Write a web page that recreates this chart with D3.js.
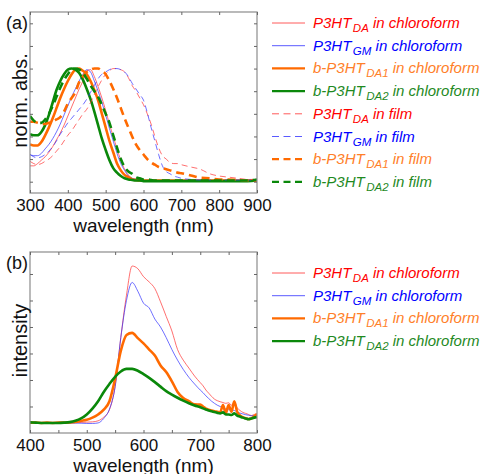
<!DOCTYPE html>
<html>
<head>
<meta charset="utf-8">
<script src="https://cdn.jsdelivr.net/npm/d3@7"></script>
<style>
body { margin: 0; background: #fff; }
text { font-family: "Liberation Sans", Arial, sans-serif; }
</style>
</head>
<body>
<svg id="chart" width="480" height="474"></svg>
<script>
// panel (a): normalised absorption
var wlA = [300,310,320,330,340,350,360,370,380,390,400,410,420,430,440,450,460,470,480,490,
  500,510,520,530,540,550,560,570,580,590,600,610,620,630,640,650,660,670,680,690,700,
  725,750,775,800,825,850,875,900]
var absDaSol = [0.14,0.14,0.16,0.19,0.22,0.26,0.31,0.37,0.43,0.50,0.58,0.66,0.74,0.82,0.89,0.98,0.99,0.93,0.84,0.74,
  0.63,0.51,0.40,0.29,0.19,0.11,0.06,0.03,0.02,0.015,0.01,0.01,0.01,0.01,0.01,0.01,0.01,0.01,0.01,0.01,0.01,
  0.01,0.01,0.01,0.01,0.01,0.01,0.01,0.01]
var absGmSol = [0.24,0.23,0.23,0.25,0.29,0.33,0.38,0.44,0.51,0.59,0.67,0.75,0.82,0.89,0.95,0.99,0.97,0.89,0.80,0.70,
  0.59,0.47,0.36,0.25,0.16,0.10,0.05,0.03,0.02,0.015,0.01,0.01,0.01,0.01,0.01,0.01,0.01,0.01,0.01,0.01,0.01,
  0.01,0.01,0.01,0.01,0.01,0.01,0.01,0.01]
var absDa1Sol = [0.33,0.32,0.32,0.35,0.41,0.48,0.56,0.65,0.74,0.82,0.89,0.95,0.99,1.00,0.98,0.95,0.89,0.81,0.72,0.60,
  0.48,0.36,0.26,0.16,0.10,0.06,0.04,0.02,0.015,0.01,0.01,0.01,0.01,0.01,0.01,0.01,0.01,0.01,0.01,0.01,0.01,
  0.01,0.01,0.01,0.01,0.01,0.01,0.01,0.01]
var absDa2Sol = [0.42,0.41,0.41,0.44,0.50,0.59,0.70,0.81,0.89,0.95,0.99,1.00,0.99,0.96,0.90,0.82,0.73,0.62,0.50,0.38,
  0.28,0.19,0.12,0.08,0.05,0.03,0.02,0.015,0.01,0.01,0.005,0.005,0.005,0.005,0.005,0.005,0.005,0.005,0.005,0.005,0.005,
  0.005,0.005,0.005,0.005,0.005,0.005,0.005,0.01]
var absDaFilm = [0.18,0.16,0.15,0.16,0.18,0.20,0.23,0.27,0.31,0.36,0.41,0.45,0.50,0.55,0.60,0.64,0.70,0.77,0.84,0.90,
  0.95,0.98,1.00,1.00,0.99,0.97,0.92,0.85,0.80,0.74,0.68,0.60,0.51,0.40,0.30,0.23,0.20,0.17,0.16,0.16,0.15,
  0.13,0.11,0.07,0.05,0.04,0.03,0.02,0.02]
var absGmFilm = [0.24,0.22,0.21,0.22,0.24,0.27,0.31,0.36,0.42,0.47,0.52,0.56,0.60,0.64,0.68,0.73,0.79,0.85,0.91,0.95,
  0.97,0.99,1.00,1.00,0.99,0.97,0.93,0.87,0.82,0.77,0.72,0.61,0.48,0.36,0.24,0.14,0.09,0.07,0.05,0.04,0.03,
  0.02,0.015,0.015,0.015,0.015,0.015,0.015,0.01]
var absDa1Film = [0.53,0.53,0.52,0.51,0.51,0.52,0.53,0.55,0.57,0.62,0.69,0.74,0.79,0.88,0.93,0.97,0.99,1.00,1.00,0.98,
  0.95,0.89,0.82,0.74,0.65,0.56,0.48,0.40,0.33,0.28,0.24,0.20,0.17,0.15,0.13,0.12,0.11,0.10,0.09,0.08,0.075,
  0.055,0.035,0.03,0.02,0.02,0.015,0.01,0.01]
var absDa2Film = [0.58,0.54,0.52,0.52,0.55,0.60,0.67,0.75,0.83,0.90,0.95,0.99,1.00,0.99,0.96,0.91,0.85,0.80,0.75,0.68,
  0.60,0.52,0.41,0.30,0.20,0.13,0.09,0.07,0.04,0.03,0.02,0.02,0.015,0.01,0.01,0.01,0.01,0.01,0.01,0.01,0.01,
  0.01,0.01,0.01,0.01,0.01,0.01,0.01,0.02]

// panel (b): photoluminescence
var wlB = [400,410,420,430,440,450,460,470,480,490,500,510,520,530,540,550,560,570,580,590,600,
  610,620,630,640,650,660,670,680,690,700,705,710,715,720,725,730,735,740,745,750,
  755,760,765,770,775,780,785,790,795,800]
var plDa = [0.40,0.40,0.39,0.40,0.39,0.40,0.39,0.40,0.40,0.40,0.41,0.42,0.46,0.60,0.88,1.75,3.60,5.20,6.30,6.20,5.90,
  5.70,5.45,4.95,4.40,3.85,3.15,2.75,2.45,2.15,1.90,1.78,1.62,1.50,1.38,1.28,1.22,1.18,1.15,1.12,1.14,
  1.05,1.15,0.95,0.85,0.78,0.74,0.70,0.66,0.70,0.72]
var plGm = [0.38,0.38,0.38,0.37,0.38,0.37,0.38,0.37,0.37,0.37,0.36,0.36,0.38,0.55,0.90,1.75,3.60,5.00,5.68,5.35,4.90,
  4.72,4.30,4.00,3.60,3.15,2.75,2.40,2.10,1.85,1.62,1.52,1.40,1.30,1.20,1.12,1.05,1.00,0.95,0.91,0.88,
  0.87,0.85,0.80,0.75,0.72,0.69,0.67,0.65,0.66,0.66]
var plDa1 = [0.39,0.39,0.38,0.39,0.38,0.39,0.39,0.40,0.42,0.46,0.50,0.58,0.70,0.88,1.20,2.05,3.10,3.70,3.78,3.58,3.38,
  3.15,2.92,2.55,2.30,1.95,1.55,1.32,1.20,1.08,1.07,1.00,0.92,0.88,0.85,0.82,0.80,0.78,1.05,0.75,1.05,
  0.80,1.20,0.80,0.66,0.60,0.56,0.53,0.55,0.62,0.72]
var plDa2 = [0.40,0.39,0.38,0.38,0.38,0.38,0.39,0.41,0.46,0.55,0.70,0.92,1.20,1.55,1.85,2.12,2.32,2.42,2.42,2.35,2.22,
  2.08,1.92,1.75,1.58,1.45,1.33,1.22,1.12,1.04,0.97,0.93,0.89,0.85,0.82,0.79,0.76,0.74,0.78,0.70,0.70,
  0.68,0.74,0.66,0.62,0.58,0.55,0.52,0.55,0.58,0.60]

var ticksA = [300,400,500,600,700,800,900]
var ticksB = [400,500,600,700,800]
var minorB = [400,450,500,550,600,650,700,750,800]

var seriesA = [
  {v: absDaSol, c: "#ff3030", t: "#ff0000", w: 0.7, dash: null, name: "P3HT", sub: "DA", rest: " in chloroform"},
  {v: absGmSol, c: "#3030ff", t: "#0000ff", w: 0.7, dash: null, name: "P3HT", sub: "GM", rest: " in chloroform"},
  {v: absDa1Sol, c: "#ff6a00", t: "#ff7f2a", w: 2.6, dash: null, name: "b-P3HT", sub: "DA1", rest: " in chloroform"},
  {v: absDa2Sol, c: "#0a880a", t: "#1f8a1f", w: 2.6, dash: null, name: "b-P3HT", sub: "DA2", rest: " in chloroform"},
  {v: absDaFilm, c: "#ff3030", t: "#ff0000", w: 0.7, dash: "6,4", name: "P3HT", sub: "DA", rest: " in film"},
  {v: absGmFilm, c: "#3030ff", t: "#0000ff", w: 0.7, dash: "6,4", name: "P3HT", sub: "GM", rest: " in film"},
  {v: absDa1Film, c: "#ff6a00", t: "#ff7f2a", w: 2.6, dash: "8,5", name: "b-P3HT", sub: "DA1", rest: " in film"},
  {v: absDa2Film, c: "#0a880a", t: "#1f8a1f", w: 2.6, dash: "8,5", name: "b-P3HT", sub: "DA2", rest: " in film"}
]
var seriesB = seriesA.slice(0, 4).map(function(s, i) {
  return Object.assign({}, s, {v: [plDa, plGm, plDa1, plDa2][i]})
})

var svg = d3.select("#chart")

function drawPanel(cfg) {
  var x = d3.scaleLinear().domain(cfg.xdom).range([30, 257])
  var y = d3.scaleLinear().domain(cfg.ydom).range([cfg.bottom, cfg.top])
  var g = svg.append("g")

  g.append("clipPath").attr("id", cfg.id).append("rect")
    .attr("x", 30).attr("y", cfg.top).attr("width", 227).attr("height", cfg.bottom - cfg.top)

  var line = d3.line().curve(d3.curveMonotoneX)
    .x(function(d) { return x(d[0]) }).y(function(d) { return y(d[1]) })

  var lines = g.append("g").attr("clip-path", "url(#" + cfg.id + ")")
  cfg.series.forEach(function(s) {
    lines.append("path")
      .datum(cfg.wl.map(function(w, i) { return [w, s.v[i]] }))
      .attr("d", line).attr("fill", "none")
      .attr("stroke", s.c).attr("stroke-width", s.w)
      .attr("stroke-dasharray", s.dash)
  })

  // frame and inward ticks on all four sides
  g.append("rect").attr("x", 30).attr("y", cfg.top).attr("width", 227)
    .attr("height", cfg.bottom - cfg.top).attr("fill", "none")
    .attr("stroke", "#8c8c8c").attr("stroke-width", 1.2)

  var bx = g.append("g").attr("transform", "translate(0," + cfg.bottom + ")")
    .call(d3.axisBottom(x).tickValues(cfg.minor).tickSize(-3).tickFormat(""))
  var tx = g.append("g").attr("transform", "translate(0," + cfg.top + ")")
    .call(d3.axisTop(x).tickValues(cfg.minor).tickSize(-3).tickFormat(""))
  var ly = g.append("g").attr("transform", "translate(30,0)")
    .call(d3.axisLeft(y).tickValues(cfg.yticks).tickSize(-3).tickFormat(""))
  var ry = g.append("g").attr("transform", "translate(257,0)")
    .call(d3.axisRight(y).tickValues(cfg.yticks).tickSize(-3).tickFormat(""))
  ;[bx, tx, ly, ry].forEach(function(a) {
    a.select(".domain").remove()
    a.selectAll("line").attr("stroke", "#666")
  })

  var lab = g.append("g").attr("transform", "translate(0," + cfg.bottom + ")")
    .call(d3.axisBottom(x).tickValues(cfg.xticks).tickSize(0).tickPadding(6).tickFormat(d3.format("d")))
  lab.select(".domain").remove()
  lab.selectAll("text").attr("font-size", 17).attr("fill", "#111")
    .style("font-family", "'Liberation Sans', Arial, sans-serif")

  g.append("text").attr("x", 143.5).attr("y", cfg.bottom + 38.5)
    .attr("text-anchor", "middle").attr("font-size", 19).attr("fill", "#111")
    .text("wavelength (nm)")
  g.append("text").attr("transform", "translate(27," + ((cfg.top + cfg.bottom) / 2 - 2) + ") rotate(-90)")
    .attr("text-anchor", "middle").attr("font-size", 20).attr("fill", "#111")
    .text(cfg.ylabel)
  g.append("text").attr("x", 6).attr("y", cfg.top + 17)
    .attr("font-size", 18).attr("fill", "#111").text(cfg.tag)

  // legend
  var leg = g.append("g")
  cfg.series.forEach(function(s, i) {
    var yy = cfg.legTop + i * 22.7
    leg.append("line").attr("x1", 272).attr("x2", 305).attr("y1", yy).attr("y2", yy)
      .attr("stroke", s.c).attr("stroke-width", s.w < 1 ? 0.8 : 2.2)
      .attr("stroke-dasharray", s.dash ? "7,4.5" : null)
    var t = leg.append("text").attr("x", 313).attr("y", yy + 5)
      .attr("font-size", 15).attr("font-style", "italic").attr("fill", s.t)
    t.append("tspan").text(s.name)
    t.append("tspan").attr("dx", 1.5).attr("dy", 4).attr("font-size", 11.5).text(s.sub)
    t.append("tspan").attr("dy", -4).text(s.rest)
  })
}

drawPanel({id: "clipA", wl: wlA, series: seriesA, xdom: [300, 900], ydom: [-0.1, 1.5],
  top: 12, bottom: 193, xticks: ticksA, minor: ticksA, yticks: d3.range(0, 1.41, 0.2),
  ylabel: "norm. abs.", tag: "(a)", legTop: 23})
drawPanel({id: "clipB", wl: wlB, series: seriesB, xdom: [400, 800], ydom: [0, 6.83],
  top: 252, bottom: 433, xticks: ticksB, minor: minorB, yticks: [1, 2, 3, 4, 5, 6],
  ylabel: "intensity", tag: "(b)", legTop: 273})
</script>
</body>
</html>
